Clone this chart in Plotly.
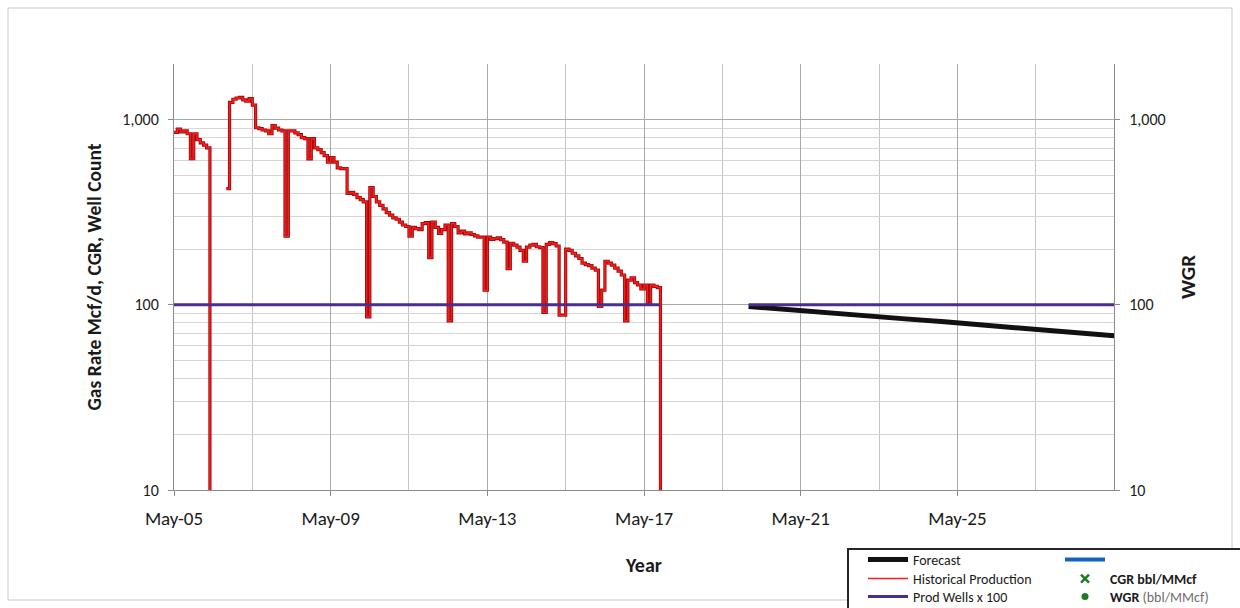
import math
import pandas as pd
import plotly.graph_objects as go

# ---------------- data ----------------
hist_start = "2005-05-01"
# monthly gas rate, Mcf/d (0 = shut-in, None = no record)
gas_rate = [
    855, 890, 860, 870, 840, 616, 840, 780, 750, 730,
    705, 0, None, None, None, None, 425, 1240, 1290, 1310,
    1320, 1280, 1260, 1300, 1200, 905, 895, 880, 870, 840,
    930, 900, 880, 870, 235, 870, 870, 850, 830, 800,
    790, 615, 790, 705, 690, 665, 640, 590, 625, 590,
    550, 545, 545, 400, 405, 395, 380, 370, 360, 86,
    430, 385, 360, 345, 330, 315, 305, 295, 290, 280,
    270, 265, 235, 262, 258, 255, 275, 278, 180, 280,
    262, 243, 255, 270, 82, 275, 265, 245, 250, 242,
    245, 240, 236, 232, 232, 120, 232, 226, 228, 230,
    225, 218, 157, 215, 210, 205, 197, 172, 205, 210,
    212, 206, 204, 91, 212, 217, 214, 208, 88, 88,
    200, 197, 190, 184, 178, 168, 165, 163, 158, 154,
    98, 120, 172, 168, 164, 158, 152, 145, 82, 136,
    140, 132, 128, 122, 128, 101, 128, 126, 124, 0,
]

wells_hist_dates = ["2005-05-01", "2017-10-01"]
wells_hist = [100, 100]

forecast_dates = ["2020-01-01", "2021-01-01", "2022-01-01", "2023-01-01",
                  "2024-01-01", "2025-01-01", "2026-01-01", "2027-01-01",
                  "2028-01-01", "2029-01-01", "2029-05-01"]
forecast_rate = [98, 94, 90, 87, 84, 81, 78, 75, 72, 69, 68]

wells_fc_dates = ["2020-01-01", "2029-05-01"]
wells_fc = [100, 100]

x_range = ["2005-05-01", "2029-04-30"]
y_range_vals = [10, 2000]

# ---------------- figure ----------------
hist_dates = pd.date_range(hist_start, periods=len(gas_rate), freq="MS")
# shut-in months (0) drawn down to the floor of the log axis
gas_plot = [None if v is None else (v if v > 0 else 0.1) for v in gas_rate]

FONT = "Carlito, Lato, sans-serif"
LEG_FONT = dict(family=FONT, size=14, color="#1a1a1a")
fig = go.Figure()

fig.add_trace(go.Scatter(x=forecast_dates, y=forecast_rate, mode="lines",
                         name="Forecast", line=dict(color="#111111", width=5),
                         legend="legend"))
fig.add_trace(go.Scatter(x=hist_dates, y=gas_plot, mode="lines", showlegend=False,
                         line=dict(color="#9a0d0d", width=3.2, shape="hv"),
                         hoverinfo="skip", connectgaps=False))
fig.add_trace(go.Scatter(x=hist_dates, y=gas_plot, mode="lines",
                         name="Historical Production",
                         line=dict(color="#ff1a1a", width=1.5, shape="hv"),
                         connectgaps=False, legend="legend2"))
fig.add_trace(go.Scatter(x=wells_hist_dates, y=wells_hist, mode="lines",
                         name="Prod Wells x 100", line=dict(color="#4b2d91", width=3),
                         legend="legend3", legendgroup="wells"))
fig.add_trace(go.Scatter(x=wells_fc_dates, y=wells_fc, mode="lines",
                         name="Prod Wells x 100", line=dict(color="#4b2d91", width=3),
                         showlegend=False, legendgroup="wells", legend="legend3"))
fig.add_trace(go.Scatter(x=[None], y=[None], mode="lines", name=" ",
                         line=dict(color="#1565c0", width=4), legend="legend"))
fig.add_trace(go.Scatter(x=[None], y=[None], mode="markers", name="<b>CGR bbl/MMcf</b>",
                         marker=dict(symbol="x-thin", size=8, color="#1e7b1e",
                                     line=dict(width=2.5, color="#1e7b1e")),
                         legend="legend2"))
fig.add_trace(go.Scatter(x=[None], y=[None], mode="markers",
                         name="<b>WGR</b> <span style='color:#6d6d6d'>(bbl/MMcf)</span>",
                         marker=dict(symbol="circle", size=7, color="#1e7b1e"),
                         legend="legend3", yaxis="y2"))

PX_L, PX_R, PX_T, PX_B = 174, 1114, 64, 490
W, H = 1240, 608


def px2paper_x(px):
    return (px - PX_L) / (PX_R - PX_L)


def px2paper_y(py):
    return (PX_B - py) / (PX_B - PX_T)


ylog = [math.log10(v) for v in y_range_vals]

ytick_font = dict(family=FONT, size=16, color="#1a1a1a")
xtick_font = dict(family=FONT, size=19, color="#1a1a1a")


def legend_row(py):
    return dict(
        x=px2paper_x(863), y=px2paper_y(py), xanchor="left", yanchor="middle",
        bgcolor="rgba(0,0,0,0)", borderwidth=0, orientation="h",
        font=LEG_FONT, entrywidth=142, entrywidthmode="pixels",
        itemwidth=40, traceorder="normal",
    )


fig.update_layout(
    width=W, height=H,
    margin=dict(l=PX_L, r=W - PX_R, t=PX_T, b=H - PX_B, autoexpand=False),
    paper_bgcolor="white", plot_bgcolor="white",
    font=dict(family=FONT, color="#1a1a1a"),
    xaxis=dict(
        type="date", range=x_range, tick0="2005-05-01", dtick="M48",
        tickformat="%b-%y", tickfont=xtick_font,
        showgrid=True, gridcolor="#a8a8a8", gridwidth=1,
        minor=dict(tick0="2005-05-01", dtick="M24", showgrid=True,
                   gridcolor="#c4c4c4", ticks=""),
        showline=True, linecolor="#8c8c8c", linewidth=1,
        ticks="outside", ticklen=5, tickcolor="#8c8c8c",
        ticklabelstandoff=6, zeroline=False,
        title=dict(text="<b>Year</b>", font=dict(family=FONT, size=20, color="#1a1a1a"),
                   standoff=29),
    ),
    yaxis=dict(
        type="log", range=ylog, tickmode="linear", tick0=0, dtick=1,
        tickformat=",d", tickfont=ytick_font,
        showgrid=True, gridcolor="#a8a8a8", gridwidth=1,
        minor=dict(dtick="D1", showgrid=True, gridcolor="#d6d6d6", ticks=""),
        showline=True, linecolor="#8c8c8c", linewidth=1,
        ticks="outside", ticklen=5, tickcolor="#8c8c8c", ticklabelstandoff=6,
        zeroline=False,
        title=dict(text="<b>Gas Rate Mcf/d, CGR, Well Count</b>",
                   font=dict(family=FONT, size=19.5, color="#1a1a1a"), standoff=15),
    ),
    yaxis2=dict(
        type="log", range=ylog, overlaying="y", side="right",
        tickmode="linear", tick0=0, dtick=1, tickformat=",d", tickfont=ytick_font,
        showgrid=False, showline=True, linecolor="#8c8c8c", linewidth=1,
        ticks="outside", ticklen=5, tickcolor="#8c8c8c", ticklabelstandoff=6,
        zeroline=False,
        title=dict(text="<b>WGR</b>", font=dict(family=FONT, size=21, color="#1a1a1a"),
                   standoff=15),
    ),
    legend=legend_row(560),
    legend2=legend_row(579),
    legend3=legend_row(597),
    shapes=[
        dict(type="rect", xref="paper", yref="paper",
             x0=px2paper_x(8), x1=px2paper_x(1232), y0=px2paper_y(600), y1=px2paper_y(8),
             line=dict(color="#c8c8c8", width=1), fillcolor="rgba(0,0,0,0)", layer="below"),
        dict(type="rect", xref="paper", yref="paper",
             x0=px2paper_x(848), x1=px2paper_x(1250), y0=px2paper_y(620), y1=px2paper_y(549),
             line=dict(color="#262626", width=2), fillcolor="white", layer="below"),
    ],
)

fig.write_html("out.html", config={"displayModeBar": False},
               post_script="document.body.style.margin='0';")
